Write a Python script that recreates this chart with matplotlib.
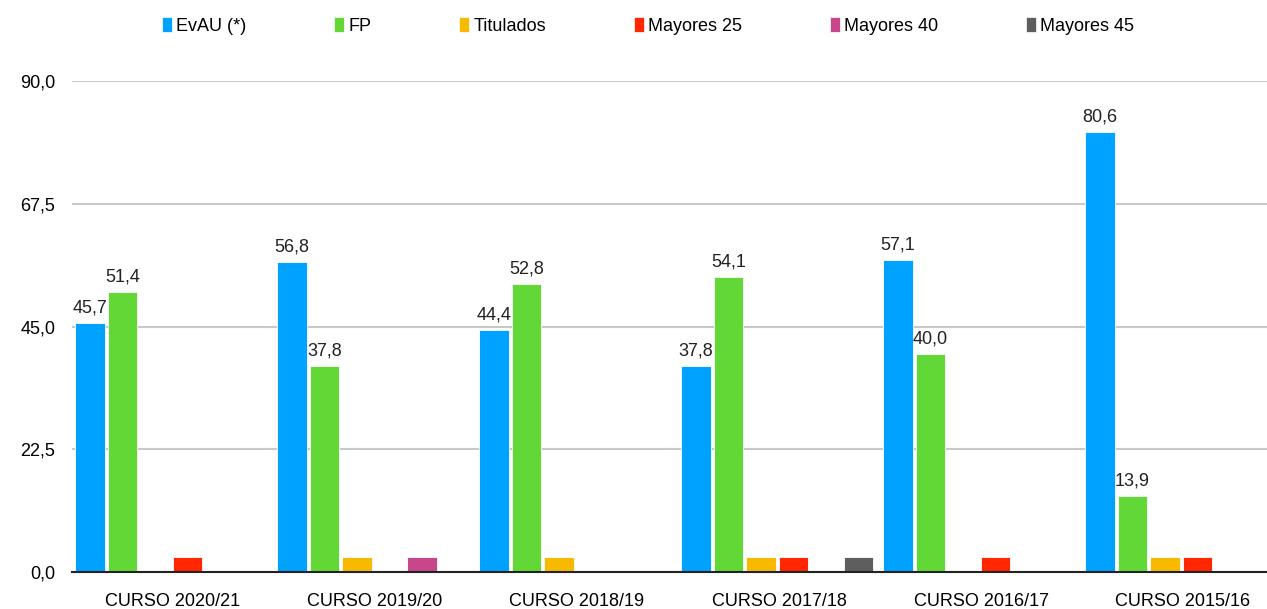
import numpy as np
import matplotlib.pyplot as plt
from matplotlib.patches import Patch

plt.rcParams['font.family'] = ['Liberation Sans', 'DejaVu Sans']

cursos = ["CURSO 2020/21", "CURSO 2019/20", "CURSO 2018/19",
          "CURSO 2017/18", "CURSO 2016/17", "CURSO 2015/16"]
series = ["EvAU (*)", "FP", "Titulados", "Mayores 25", "Mayores 40", "Mayores 45"]
evau = [45.7, 56.8, 44.4, 37.8, 57.1, 80.6]
fp = [51.4, 37.8, 52.8, 54.1, 40.0, 13.9]
titulados = [0, 2.7, 2.7, 2.7, 0, 2.7]
mayores25 = [2.7, 0, 0, 2.7, 2.7, 2.7]
mayores40 = [0, 2.7, 0, 0, 0, 0]
mayores45 = [0, 0, 0, 2.7, 0, 0]
colores = ["#00A2FF", "#61D836", "#F8BA00", "#FF2600", "#C8478A", "#5E5E5E"]

datos = [evau, fp, titulados, mayores25, mayores40, mayores45]
con_etiqueta = [True, True, False, False, False, False]

fig = plt.figure(figsize=(12.67, 6.09), dpi=100)
ax = fig.add_axes([72 / 1267, 37 / 609, 1 - 72 / 1267, 491 / 609])

x = np.arange(len(cursos))
paso = 0.161
ancho = 0.146
for i, valores in enumerate(datos):
    v = np.array(valores, dtype=float)
    pos = x + (i - 2.5) * paso - 0.008
    m = v > 0
    ax.bar(pos[m], v[m], width=ancho, color=colores[i], edgecolor="white",
           linewidth=0.6, zorder=3)
    if con_etiqueta[i]:
        for px, val in zip(pos[m], v[m]):
            ax.text(px, val + 1.2, f"{val:.1f}".replace(".", ","), ha="center",
                    va="bottom", fontsize=13, color="#222222")

ax.set_xlim(-0.5, -0.5 + (1267 - 72) / 202)
ax.set_ylim(0, 90)
yt = [0, 22.5, 45, 67.5, 90]
ax.set_yticks(yt)
ax.set_yticklabels([f"{t:.1f}".replace(".", ",") for t in yt], fontsize=13)
ax.set_xticks(x)
ax.set_xticklabels(cursos, fontsize=13)
ax.tick_params(axis="both", length=0)
ax.tick_params(axis="y", pad=12)
ax.tick_params(axis="x", pad=15)
ax.grid(axis="y", color="#c8c8c8", linewidth=1.5, zorder=0)
for s in ["top", "right", "left"]:
    ax.spines[s].set_visible(False)
ax.spines["bottom"].set_color("#222222")
ax.spines["bottom"].set_linewidth(1.5)
ax.spines["bottom"].set_zorder(4)

handles = [Patch(facecolor=c, edgecolor="white", linewidth=0.5) for c in colores]
fig.legend(handles, series, loc="center", bbox_to_anchor=(648 / 1267, 1 - 26 / 609),
           ncol=6, frameon=False, fontsize=13, handlelength=0.55, handleheight=0.9,
           handletextpad=0.25, columnspacing=4.85)

fig.savefig("out.png", dpi=100)
